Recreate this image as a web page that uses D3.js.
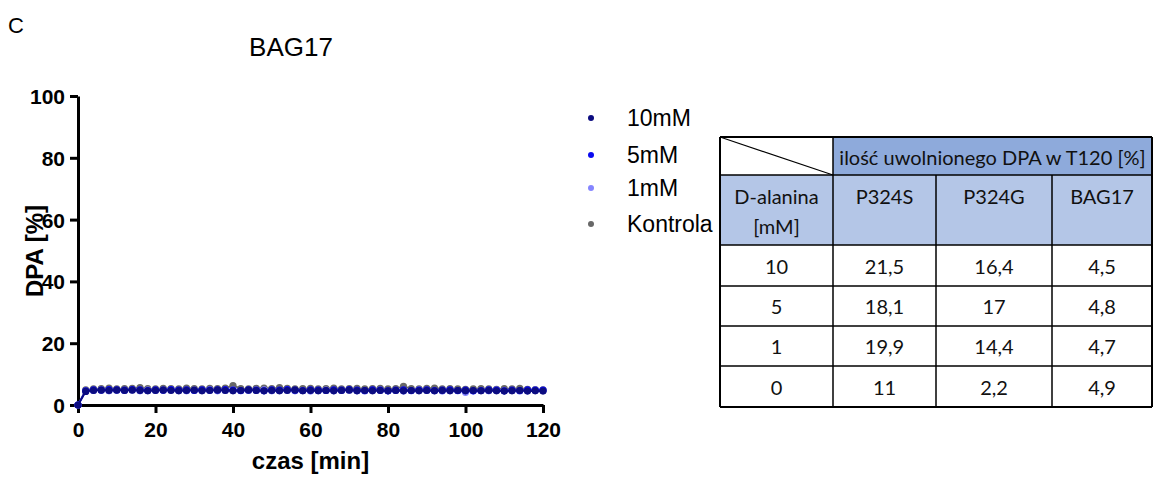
<!DOCTYPE html>
<html><head><meta charset="utf-8">
<script src="https://cdn.jsdelivr.net/npm/d3@7"></script>
<style>
html,body{margin:0;padding:0;background:#fff;}
svg{display:block;}
</style></head>
<body>
<svg id="c" width="1154" height="477"></svg>
<script>
// ---- data ----
const time = [0,2,4,6,8,10,12,14,16,18,20,22,24,26,28,30,32,34,36,38,40,42,44,46,48,50,52,54,56,58,60,62,64,66,68,70,72,74,76,78,80,82,84,86,88,90,92,94,96,98,100,102,104,106,108,110,112,114,116,118,120];
const kontrola = [0,4.9,5.2,5.3,5.5,5.2,5.3,5.4,5.6,5.3,5.2,5.4,5.3,5.2,5.5,5.3,5.2,5.4,5.3,5.5,6.3,5.3,5.2,5.4,5.5,5.3,5.6,5.4,5.2,5.3,5.4,5.2,5.3,5.5,5.2,5.3,5.4,5.2,5.3,5.4,5.2,5.3,6.0,5.3,5.2,5.4,5.5,5.2,5.3,5.2,5.1,5.2,5.3,5.2,5.1,5.3,5.2,5.4,5.1,5.0,4.9];
const mM1 = [0,4.5,4.7,4.9,4.6,4.8,4.7,4.9,4.6,4.8,4.7,4.8,4.9,4.7,4.6,4.8,4.7,4.9,4.6,4.7,4.8,4.6,4.7,4.8,4.9,4.6,4.7,4.8,4.6,4.7,4.5,4.7,4.8,4.6,4.7,4.8,4.6,4.5,4.7,4.8,4.6,4.7,4.5,4.6,4.8,4.7,4.6,4.5,4.7,4.6,4.1,4.5,4.7,4.6,4.8,4.6,4.7,4.5,4.6,4.8,4.7];
const mM5 = [0,4.6,4.9,4.8,5.0,4.9,4.8,5.0,4.9,4.7,4.9,4.8,5.0,4.8,4.9,4.7,4.9,4.8,4.9,5.0,4.8,4.7,4.9,4.8,4.6,4.9,4.8,5.0,4.8,4.7,4.9,4.8,4.7,4.9,4.8,5.0,4.8,4.7,4.9,4.8,4.6,4.8,4.9,4.7,4.8,4.9,4.7,4.8,4.9,4.7,4.8,4.6,4.7,4.9,4.8,4.6,4.8,4.7,4.9,4.8,4.8];
const mM10 = [0,4.4,4.7,4.8,4.7,4.8,4.7,4.8,4.7,4.6,4.7,4.8,4.7,4.6,4.7,4.8,4.6,4.7,4.8,4.7,4.6,4.7,4.8,4.7,4.6,4.7,4.6,4.7,4.8,4.6,4.7,4.6,4.7,4.6,4.7,4.8,4.6,4.7,4.6,4.7,4.6,4.7,4.6,4.7,4.6,4.7,4.6,4.7,4.6,4.7,4.6,4.7,4.6,4.7,4.6,4.5,4.6,4.7,4.5,4.6,4.5];
const seriesNames = ["10mM","5mM","1mM","Kontrola"];
const seriesColors = ["#0c0c80","#0a0af0","#8585ff","#686868"];
const xTicks = [0,20,40,60,80,100,120];
const yTicks = [0,20,40,60,80,100];
const tableHeader = "ilość uwolnionego DPA w T120 [%]";
const rowHeaderLines = ["D-alanina","[mM]"];
const strains = ["P324S","P324G","BAG17"];
const concentrations = ["10","5","1","0"];
const valP324S = ["21,5","18,1","19,9","11"];
const valP324G = ["16,4","17","14,4","2,2"];
const valBAG17 = ["4,5","4,8","4,7","4,9"];

const svg = d3.select("#c");
const sans = "'Liberation Sans', Arial, sans-serif";

// panel letter and title
svg.append("text").attr("x",8).attr("y",33).attr("font-family",sans).attr("font-size",22).text("C");
svg.append("text").attr("x",291).attr("y",56).attr("text-anchor","middle").attr("font-family",sans).attr("font-size",26).text("BAG17");

// scales
const x = d3.scaleLinear().domain([0,120]).range([78,543]);
const y = d3.scaleLinear().domain([0,100]).range([405,96]);

// axes
const xAxis = svg.append("g").attr("transform","translate(0,405)")
  .call(d3.axisBottom(x).tickValues(xTicks).tickSize(8).tickSizeOuter(0).tickPadding(5));
const yAxis = svg.append("g").attr("transform","translate(78,0)")
  .call(d3.axisLeft(y).tickValues(yTicks).tickSize(8).tickSizeOuter(0).tickPadding(5));
[xAxis,yAxis].forEach(g=>{
  g.select(".domain").attr("stroke","#000").attr("stroke-width",3);
  g.selectAll(".tick line").attr("stroke","#000").attr("stroke-width",3);
  g.selectAll(".tick text").attr("font-family",sans).attr("font-weight","bold").attr("font-size",21).attr("fill","#000");
});
xAxis.selectAll(".tick text").attr("dy","0.9em");
yAxis.selectAll(".tick text").attr("dy","0.36em");

svg.append("text").attr("x",x(60)).attr("y",469).attr("text-anchor","middle")
  .attr("font-family",sans).attr("font-weight","bold").attr("font-size",24).text("czas [min]");
svg.append("text").attr("transform","translate(43,"+251+") rotate(-90)").attr("text-anchor","middle")
  .attr("font-family",sans).attr("font-weight","bold").attr("font-size",24).text("DPA [%]");

// series (drawn bottom to top: Kontrola, 1mM, 5mM, 10mM)
const allSeries = [mM10, mM5, mM1, kontrola];
const line = d3.line().x((d,i)=>x(time[i])).y(d=>y(d));
for (let s = allSeries.length-1; s>=0; s--) {
  const vals = allSeries[s];
  const g = svg.append("g");
  g.append("path").datum(vals).attr("d",line).attr("fill","none")
    .attr("stroke",seriesColors[s]).attr("stroke-width",1.8);
  g.selectAll("circle").data(vals).join("circle")
    .attr("cx",(d,i)=>x(time[i])).attr("cy",d=>y(d)).attr("r",3.6)
    .attr("fill",seriesColors[s]);
}

// legend
const legY = [118,155,188,224];
seriesNames.forEach((n,i)=>{
  svg.append("circle").attr("cx",591).attr("cy",legY[i]).attr("r",3).attr("fill",seriesColors[i]);
  svg.append("text").attr("x",627).attr("y",legY[i]+8).attr("font-family",sans).attr("font-size",23).text(n);
});

// table
const tf = "Lato, 'Open Sans', sans-serif";
const colX = [720,833,936,1052,1152];
const rowY = [137,175,245,286,326,366,407];
const T = svg.append("g");
T.append("rect").attr("x",colX[1]).attr("y",rowY[0]).attr("width",colX[4]-colX[1]).attr("height",rowY[1]-rowY[0]).attr("fill","#8eaadb");
T.append("rect").attr("x",colX[0]).attr("y",rowY[1]).attr("width",colX[4]-colX[0]).attr("height",rowY[2]-rowY[1]).attr("fill","#b4c6e7");
function hl(yv,x1,x2,w){T.append("line").attr("x1",x1).attr("x2",x2).attr("y1",yv).attr("y2",yv).attr("stroke","#000").attr("stroke-width",w||1.5);}
function vl(xv,y1,y2,w){T.append("line").attr("x1",xv).attr("x2",xv).attr("y1",y1).attr("y2",y2).attr("stroke","#000").attr("stroke-width",w||1.5);}
rowY.forEach((r,i)=>hl(r,colX[0],colX[4], (i===0||i===rowY.length-1)?2.2:1.5));
vl(colX[0],rowY[0],rowY[6],2);
vl(colX[1],rowY[0],rowY[6]);
vl(colX[2],rowY[1],rowY[6]);
vl(colX[3],rowY[1],rowY[6]);
vl(colX[4],rowY[0],rowY[6],2);
T.append("line").attr("x1",colX[0]).attr("y1",rowY[0]).attr("x2",colX[1]).attr("y2",rowY[1]).attr("stroke","#000").attr("stroke-width",1.2);
function cell(txt,cx,cy){T.append("text").attr("x",cx).attr("y",cy).attr("text-anchor","middle").attr("dominant-baseline","central").attr("font-family",tf).attr("font-size",20).attr("fill","#111").text(txt);}
cell(tableHeader,(colX[1]+colX[4])/2,157);
cell(rowHeaderLines[0],(colX[0]+colX[1])/2,196);
cell(rowHeaderLines[1],(colX[0]+colX[1])/2,226);
strains.forEach((s,i)=>cell(s,(colX[i+1]+colX[i+2])/2,196));
const cols = [concentrations,valP324S,valP324G,valBAG17];
cols.forEach((col,ci)=>col.forEach((v,ri)=>cell(v,(colX[ci]+colX[ci+1])/2,(rowY[ri+2]+rowY[ri+3])/2)));
</script>
</body></html>
